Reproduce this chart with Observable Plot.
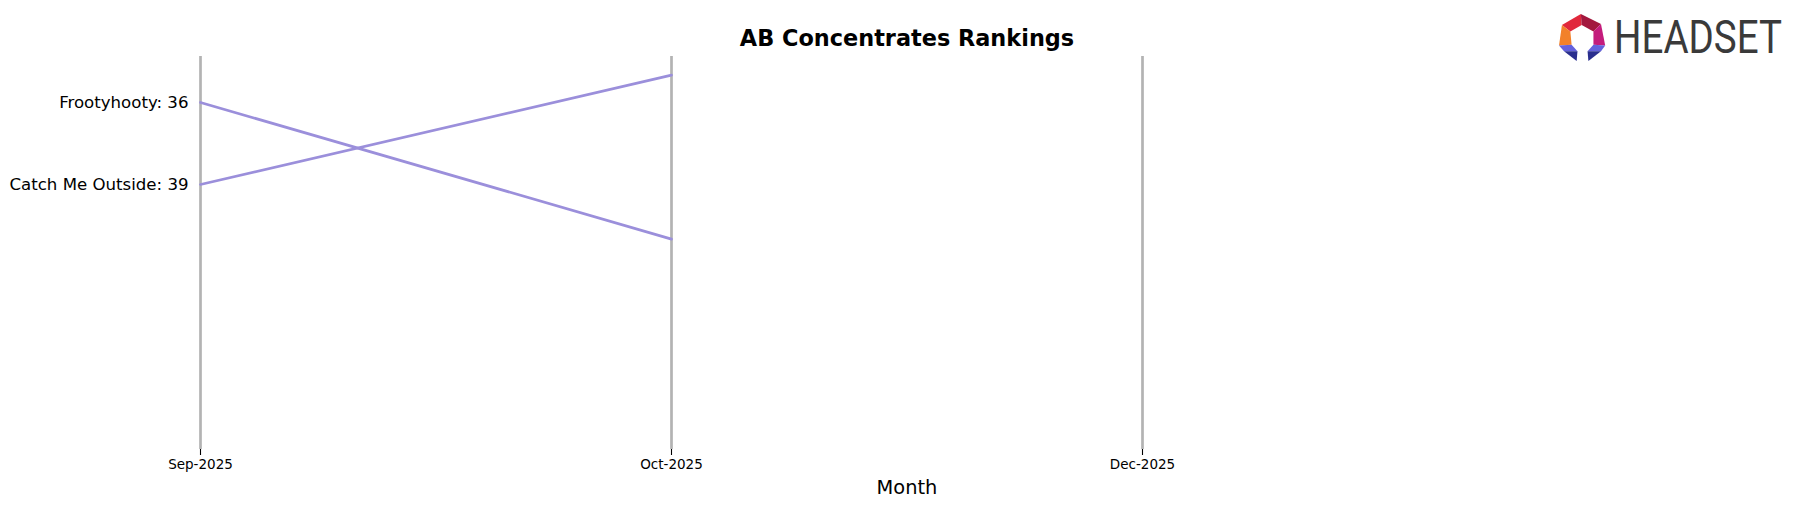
<!DOCTYPE html>
<html>
<head>
<meta charset="utf-8">
<script src="https://cdn.jsdelivr.net/npm/d3@7"></script>
<script src="https://cdn.jsdelivr.net/npm/@observablehq/plot@0.6"></script>
<style>
  html, body { margin: 0; padding: 0; background: #fff; }
  #wrap { position: relative; width: 1796px; height: 507px; overflow: hidden; }
  #logo { position: absolute; left: 1555px; top: 10px; }
</style>
</head>
<body>
<div id="wrap"></div>
<script>
// ---- data ----
const chartTitle = "AB Concentrates Rankings";
const xLabel = "Month";
const months = ["Sep-2025", "Oct-2025", "Dec-2025"];
const brands = ["Frootyhooty", "Catch Me Outside"];
const frootyhootyRanks = [36, 41, null];
const catchMeOutsideRanks = [39, 35, null];

const seriesRanks = [frootyhootyRanks, catchMeOutsideRanks];
const rows = [];
brands.forEach((b, bi) => {
  seriesRanks[bi].forEach((r, mi) => {
    if (r != null) rows.push({brand: b, month: months[mi], mi, rank: r});
  });
});
const firstRows = rows.filter(d => d.mi === 0);

const lineColor = "#9b8fdb";
const gridColor = "#b3b3b3";

const plot = Plot.plot({
  width: 1796,
  height: 507,
  marginLeft: 200,
  marginRight: 183,
  marginTop: 56,
  marginBottom: 58,
  style: {fontFamily: "DejaVu Sans", background: "#fff", color: "#000", overflow: "visible"},
  x: {type: "linear", domain: [0, 3]},
  y: {type: "linear", domain: [48.7, 34.317], axis: null},
  marks: [
    Plot.ruleX(d3.range(months.length), {stroke: gridColor, strokeWidth: 2.7}),
    Plot.axisX({
      ticks: d3.range(months.length),
      tickFormat: i => months[i],
      tickSize: 6,
      tickPadding: 4,
      fontSize: 13.5,
      stroke: "#000",
      strokeWidth: 1.1,
      label: null
    }),
    Plot.line(rows, {x: "mi", y: "rank", z: "brand", stroke: lineColor, strokeWidth: 2.7, curve: "linear"}),
    Plot.text(firstRows, {
      x: "mi", y: "rank",
      text: d => `${d.brand}: ${d.rank}`,
      textAnchor: "end", dx: -12, lineAnchor: "middle",
      fontSize: 16.6, fill: "#000"
    }),
    Plot.text([chartTitle], {
      x: 1.5, frameAnchor: "top", dy: -18, lineAnchor: "middle",
      fontSize: 22.4, fontWeight: "bold", fill: "#000"
    }),
    Plot.text([xLabel], {
      x: 1.5, frameAnchor: "bottom", dy: 38, lineAnchor: "middle",
      fontSize: 19.4, fill: "#000"
    })
  ]
});
document.getElementById("wrap").appendChild(plot);

// ---- logo ----
const logo = `
<svg id="logo" width="240" height="60" viewBox="0 0 240 60" xmlns="http://www.w3.org/2000/svg">
  <g transform="translate(4,4) scale(0.42,0.37) translate(-18,-15)">
    <polygon points="25,45 70,15 72,45 45,62" fill="#e1283c"/>
    <polygon points="70,15 118,42 100,62 72,45" fill="#a3183e"/>
    <polygon points="118,42 128,100 100,98 100,62" fill="#c41c7c"/>
    <polygon points="25,45 45,62 48,98 18,100" fill="#f2812a"/>
    <polygon points="18,100 48,98 62,116 30,116" fill="#6461dc"/>
    <polygon points="30,116 62,116 60,142" fill="#2a2f8e"/>
    <polygon points="128,100 100,98 86,116 118,116" fill="#6461dc"/>
    <polygon points="118,116 86,116 88,142" fill="#2a2f8e"/>
  </g>
  <text id="logotext" font-family="Roboto" font-size="46" fill="#3a3a3a">HEADSET</text>
</svg>`;
document.getElementById("wrap").insertAdjacentHTML("beforeend", logo);
const lt = document.getElementById("logotext");
const natural = lt.getComputedTextLength() || 203;
lt.setAttribute("transform", `translate(59,43) scale(${168 / natural},1)`);
</script>
</body>
</html>
